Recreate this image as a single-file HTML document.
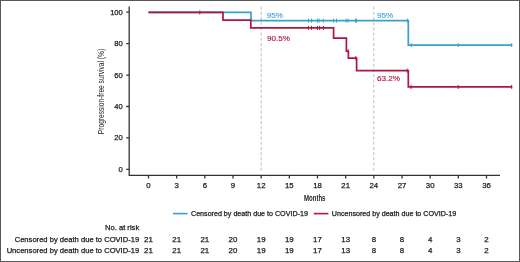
<!DOCTYPE html>
<html><head><meta charset="utf-8">
<style>
html,body{margin:0;padding:0;background:#fff;}
body{width:520px;height:262px;overflow:hidden;position:relative;}
.frame{position:absolute;left:0;top:0;width:518px;height:260px;border:1px solid #585858;}
svg{position:absolute;left:0;top:0;will-change:transform;}
text{font-family:"Liberation Sans",sans-serif;}
.bd{stroke:#1a1a1a;stroke-width:0.25px;}
</style></head>
<body>
<div class="frame"></div>
<svg width="520" height="262" viewBox="0 0 520 262">
<!-- dashed reference lines -->
<g stroke="#bcbcbc" stroke-width="1" stroke-dasharray="3,2.2" fill="none">
<line x1="261.2" y1="6.6" x2="261.2" y2="173"/>
<line x1="373.8" y1="6.6" x2="373.8" y2="173"/>
</g>
<!-- axes -->
<g stroke="#333" stroke-width="1.3" fill="none">
<path d="M129.2,6.5 V175.45 H500"/>
<path d="M126.2,12.20H129.2M126.2,43.64H129.2M126.2,75.08H129.2M126.2,106.52H129.2M126.2,137.96H129.2M126.2,169.40H129.2"/>
<path d="M148.5,175.4V178.4M176.67,175.4V178.4M204.83,175.4V178.4M233,175.4V178.4M261.17,175.4V178.4M289.33,175.4V178.4M317.5,175.4V178.4M345.67,175.4V178.4M373.83,175.4V178.4M402,175.4V178.4M430.17,175.4V178.4M458.33,175.4V178.4M486.5,175.4V178.4"/>
</g>
<!-- y labels -->
<g font-size="7.6" fill="#1a1a1a" text-anchor="end" class="bd">
<text x="122.8" y="14.6">100</text>
<text x="122.8" y="46">80</text>
<text x="122.8" y="77.5">60</text>
<text x="122.8" y="108.9">40</text>
<text x="122.8" y="140.4">20</text>
<text x="122.8" y="171.8">0</text>
</g>
<!-- x labels -->
<g font-size="7.8" fill="#1a1a1a" text-anchor="middle" class="bd">
<text x="148.5" y="188.3">0</text>
<text x="176.67" y="188.3">3</text>
<text x="204.83" y="188.3">6</text>
<text x="233" y="188.3">9</text>
<text x="261.17" y="188.3">12</text>
<text x="289.33" y="188.3">15</text>
<text x="317.5" y="188.3">18</text>
<text x="345.67" y="188.3">21</text>
<text x="373.83" y="188.3">24</text>
<text x="402" y="188.3">27</text>
<text x="430.17" y="188.3">30</text>
<text x="458.33" y="188.3">33</text>
<text x="486.5" y="188.3">36</text>
</g>
<text x="0" y="0" font-size="8.5" font-weight="bold" fill="#222" transform="translate(304,201) scale(0.71,1)">Months</text>
<text x="0" y="0" font-size="8.4" fill="#222" text-anchor="middle" transform="translate(103.8,91.5) rotate(-90) scale(0.79,1)">Progression-free survival (%)</text>

<!-- curves -->
<g fill="none" stroke-width="1.7" stroke-linejoin="miter">
<path stroke="#38a0d0" d="M148.5,12.45 H251 V20.65 H408.3 V45.05 H512.2"/>
<path stroke="#b0153f" d="M148.5,12.45 H223 V20.15 H250.8 V27.85 H333.6 V38.05 H346.4 V51.25 H348.4 V58.05 H356.6 V70.65 H408.3 V86.95 H512.2"/>
</g>
<!-- censor ticks blue -->
<g stroke="#38a0d0" stroke-width="1">
<path d="M308.4,18.65V22.65M311.5,18.65V22.65M317.5,18.65V22.65M319.1,18.65V22.65M323.3,18.65V22.65M333.6,18.65V22.65M336.5,18.65V22.65M346,18.65V22.65M348.1,18.65V22.65M355.6,18.65V22.65M356.5,18.65V22.65"/>
<path d="M407.4,18.65V22.65M411.3,43.05V47.05M458.2,43.05V47.05M511.7,43.05V47.05"/>
</g>
<g stroke="#b0153f" stroke-width="1">
<path d="M199.8,10.45V14.45"/>
<path d="M308.4,25.85V29.85M311.5,25.85V29.85M317.5,25.85V29.85M319.6,25.85V29.85M323.4,25.85V29.85"/>
<path d="M348.2,49.25V53.25M355.8,56.05V60.05M407.2,68.65V72.65"/>
<path d="M411,84.95V88.95M458.2,84.95V88.95M511.7,84.95V88.95"/>
</g>
<!-- annotations -->
<g font-size="8.1" stroke-width="0.15">
<text x="266.8" y="17.5" fill="#4aa5d6" stroke="#4aa5d6">95%</text>
<text x="377.1" y="17.5" fill="#4aa5d6" stroke="#4aa5d6">95%</text>
<text x="267" y="40.5" fill="#b0153f" stroke="#b0153f">90.5%</text>
<text x="377" y="80.6" fill="#b0153f" stroke="#b0153f">63.2%</text>
</g>

<!-- legend -->
<line x1="173" y1="213.6" x2="187.6" y2="213.6" stroke="#38a0d0" stroke-width="1.6"/>
<text x="191" y="215.8" font-size="7.13" fill="#1a1a1a" class="bd">Censored by death due to COVID-19</text>
<line x1="313.8" y1="213.6" x2="328.4" y2="213.6" stroke="#b0153f" stroke-width="1.6"/>
<text x="331.8" y="215.8" font-size="7.13" fill="#1a1a1a" class="bd">Uncensored by death due to COVID-19</text>

<!-- risk table -->
<g font-size="7.6" fill="#1a1a1a" class="bd">
<text x="139.2" y="230.1" text-anchor="end">No. at risk</text>
<text x="139.2" y="241.7" text-anchor="end">Censored by death due to COVID-19</text>
<text x="139.2" y="253.2" text-anchor="end">Uncensored by death due to COVID-19</text>
</g>
<g font-size="7.9" fill="#1a1a1a" text-anchor="middle" class="bd">
<text x="148.5" y="241.5">21</text><text x="176.67" y="241.5">21</text><text x="204.83" y="241.5">21</text><text x="233" y="241.5">20</text><text x="261.17" y="241.5">19</text><text x="289.33" y="241.5">19</text><text x="317.5" y="241.5">17</text><text x="345.67" y="241.5">13</text><text x="373.83" y="241.5">8</text><text x="402" y="241.5">8</text><text x="430.17" y="241.5">4</text><text x="458.33" y="241.5">3</text><text x="486.5" y="241.5">2</text>
<text x="148.5" y="253.2">21</text><text x="176.67" y="253.2">21</text><text x="204.83" y="253.2">21</text><text x="233" y="253.2">20</text><text x="261.17" y="253.2">19</text><text x="289.33" y="253.2">19</text><text x="317.5" y="253.2">17</text><text x="345.67" y="253.2">13</text><text x="373.83" y="253.2">8</text><text x="402" y="253.2">8</text><text x="430.17" y="253.2">4</text><text x="458.33" y="253.2">3</text><text x="486.5" y="253.2">2</text>
</g>
</svg>
</body></html>
